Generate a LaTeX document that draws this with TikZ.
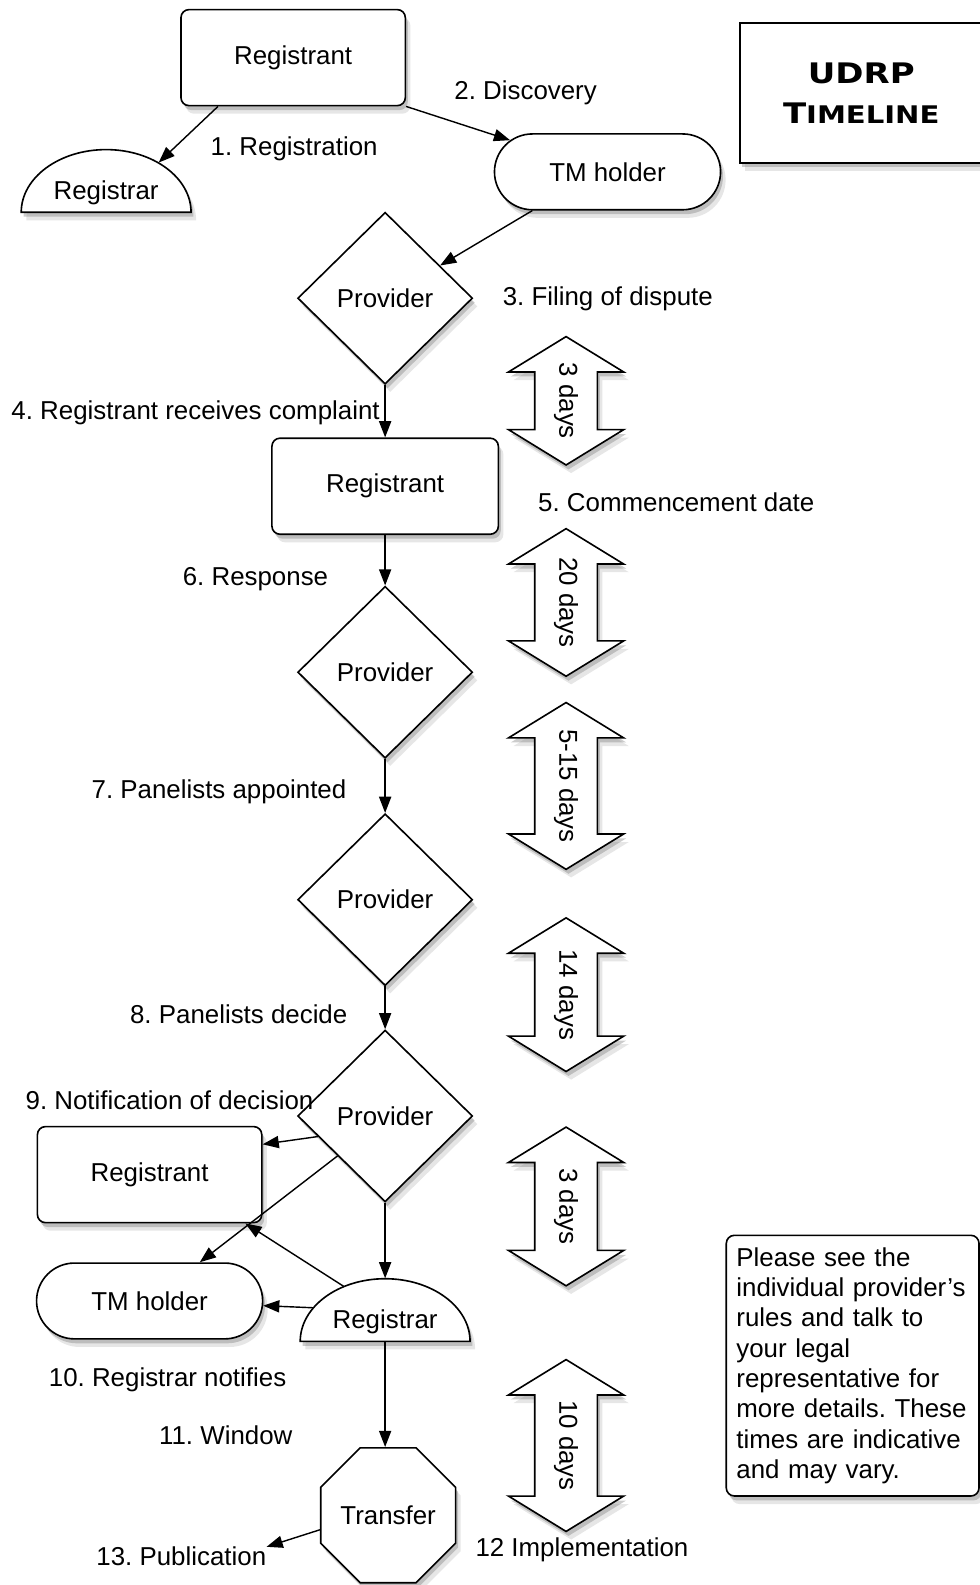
\documentclass[tikz,border=0pt]{standalone}
\usepackage{fontspec}
\setmainfont{Liberation Sans}
\newfontfamily\titlefont[FakeStretch=1.2]{DejaVu Sans}
\usetikzlibrary{shapes.geometric,shapes.misc,arrows.meta,shadows}
\frenchspacing

\tikzset{
  shadowed/.style={drop shadow={shadow xshift=2.5pt,shadow yshift=-4pt,opacity=0.2},drop shadow={shadow xshift=1.2pt,shadow yshift=-2.2pt,opacity=0.4}},
  box/.style={draw,fill=white,line width=0.8pt,rounded corners=4pt,shadowed,minimum width=111pt,minimum height=47.5pt},
  holder/.style={rounded rectangle,draw,fill=white,line width=0.8pt,shadowed,minimum width=118.5pt,minimum height=37.5pt},
  provider/.style={diamond,draw,fill=white,line width=0.8pt,shadowed,minimum width=86.5pt,minimum height=85pt,inner sep=0pt},
  dome/.style={draw,fill=white,line width=0.8pt,shadowed},
  domenode/.style={ellipse,minimum width=84pt,minimum height=62pt,inner sep=0pt,text height=9.2pt,text depth=22pt},
  octa/.style={regular polygon,regular polygon sides=8,draw,fill=white,line width=0.8pt,shadowed,minimum size=62pt,inner sep=0pt},
  titlebox/.style={draw,fill=white,line width=0.8pt,shadowed,minimum width=120pt,minimum height=69pt,align=center,font=\titlefont\bfseries\fontsize{14}{20}\selectfont},
  notebox/.style={draw,fill=white,line width=0.8pt,rounded corners=4pt,shadowed,align=left,inner xsep=5pt,inner ysep=6pt,text width=115pt},
  daysarrow/.style={draw,fill=white,line width=0.8pt,shadowed},
  dayslabel/.style={rotate=-90,inner sep=0pt},
  steptext/.style={inner sep=0pt},
  link/.style={line width=0.7pt,-{Triangle[length=8pt,width=6pt]}}
}

\begin{document}
\begin{tikzpicture}[x=0.5pt,y=-0.5pt,font=\fontsize{12.8}{15}\selectfont]

\useasboundingbox (0,0) rectangle (969,1568);

\node[box] (reg1) at (290,57) {Registrant};
\path[dome] (105,210) ++(-84,0) arc[start angle=180,end angle=0,x radius=42pt,y radius=31pt] -- cycle;
\node[domenode] (rar1) at (105,210) {Registrar};
\node[holder] (tm1) at (601,170) {TM holder};
\node[titlebox] (title) at (852,92) {UDRP\\{\fontsize{14}{20}\selectfont T}{\fontsize{12}{20}\selectfont IMELINE}};

\node[provider] (prov1) at (381,295) {Provider};
\node[box,minimum width=112pt] (reg2) at (381,481) {Registrant};
\node[provider] (prov2) at (381,665) {Provider};
\node[provider] (prov3) at (381,890) {Provider};
\node[provider] (prov4) at (381,1104) {Provider};

\node[box] (reg3) at (148,1162) {Registrant};
\node[holder] (tm2) at (148,1287) {TM holder};
\path[dome] (381,1327) ++(-84,0) arc[start angle=180,end angle=0,x radius=42pt,y radius=31pt] -- cycle;
\node[domenode] (rar2) at (381,1327) {Registrar};
\node[octa] (trans) at (384,1499) {Transfer};

\node[notebox] (note) at (843.5,1351) {Please see the\\individual provider's\\rules and talk to\\your legal\\representative for\\more details. These\\times are indicative\\and may vary.};

\foreach \ytop/\ybot/\txt [count=\i] in {333/460/3 days,523/669/20 days,695/860/5-15 days,908/1060/14 days,1115/1272/3 days,1345/1515/10 days}
{
    \draw[daysarrow] (560,\ytop) -- (617,\ytop+35) -- (591,\ytop+35) -- (591,\ybot-35) -- (617,\ybot-35) -- (560,\ybot)
        -- (503,\ybot-35) -- (529,\ybot-35) -- (529,\ytop+35) -- (503,\ytop+35) -- cycle;
    \node[dayslabel] (days\i) at (560,{(\ytop+\ybot)/2}) {\txt};
}

\node[steptext] (registration) at (291,147) {1. Registration};
\node[steptext] (discovery) at (520,92) {2. Discovery};
\node[steptext,anchor=west] (filing) at (497,296) {3. Filing of dispute};
\node[steptext,anchor=east] (receives) at (376,408) {4. Registrant receives complaint};
\node[steptext,anchor=west] (commence) at (532,497) {5. Commencement date};
\node[steptext,anchor=east] (response) at (325,573) {6. Response};
\node[steptext,anchor=east] (appointed) at (343,783) {7. Panelists appointed};
\node[steptext,anchor=east] (decide) at (344,1003) {8. Panelists decide};
\node[steptext,anchor=west] (notify) at (25,1088) {9. Notification of decision};
\node[steptext,anchor=west] (rarnotify) at (48,1365) {10. Registrar notifies};
\node[steptext,anchor=west] (window) at (157,1420) {11. Window};
\node[steptext,anchor=west] (implement) at (470,1533) {12 Implementation};
\node[steptext,anchor=west] (pub) at (95,1540) {13. Publication};

\draw[link] (reg1.213) -- (rar1);
\draw[link] (reg1.south east) -- (tm1);
\draw[link] (tm1.south west) -- (prov1);
\draw[link] (prov1) -- (reg2);
\draw[link] (reg2) -- (prov2);
\draw[link] (prov2) -- (prov3);
\draw[link] (prov3) -- (prov4);
\draw[link] (prov4.197) -- (reg3.15);
\draw[link] (prov4.220) -- (tm2);
\draw[link] (prov4) -- (rar2);
\draw[link] (rar2.127) -- (reg3.-27);
\draw[link] (rar2.155) -- (tm2);
\draw[link] (rar2.center) -- (rar2.center |- trans.north);
\draw[link] (trans.192) -- (pub.north east);

\end{tikzpicture}
\end{document}
